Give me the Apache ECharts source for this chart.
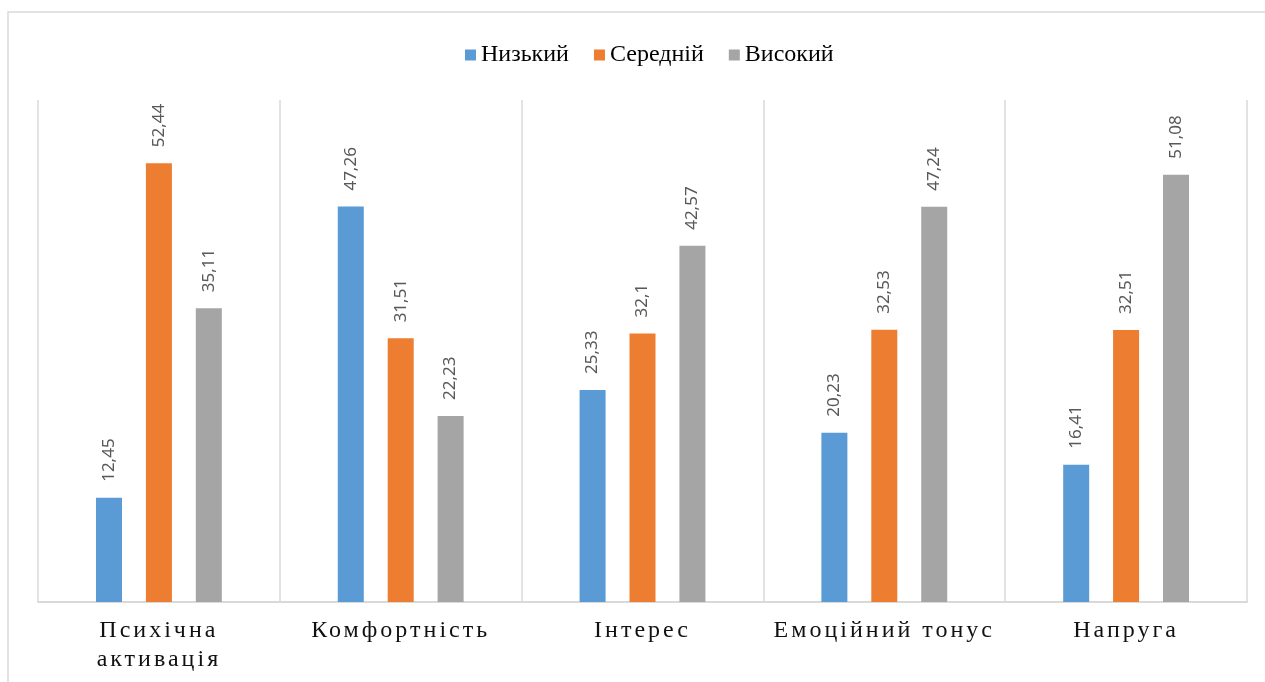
<!DOCTYPE html>
<html>
<head>
<meta charset="utf-8">
<script src="https://cdn.jsdelivr.net/npm/echarts@6/dist/echarts.min.js"></script>
<style>
html, body { margin:0; padding:0; background:#fff; }
#chart { width:1265px; height:682px; }
</style>
</head>
<body>
<div id="chart"></div>
<script>
const categories = ['Психічна\nактивація', 'Комфортність', 'Інтерес', 'Емоційний тонус', 'Напруга'];
const seriesNames = ['Низький', 'Середній', 'Високий'];
const lowValues = [12.45, 47.26, 25.33, 20.23, 16.41];
const midValues = [52.44, 31.51, 32.1, 32.53, 32.51];
const highValues = [35.11, 22.23, 42.57, 47.24, 51.08];
const colors = ['#5B9BD5', '#ED7D31', '#A5A5A5'];

// letter-spaced category labels (the reference uses tracked text on the axis)
(function () {
  const proto = CanvasRenderingContext2D.prototype;
  const origFill = proto.fillText;
  proto.fillText = function (t, x, y, m) {
    if ('letterSpacing' in this) {
      this.letterSpacing = /px\s+"?Liberation Serif/.test(this.font) ? '3px' : '0px';
    }
    return m === undefined ? origFill.call(this, t, x, y) : origFill.call(this, t, x, y, m);
  };
})();

const chart = echarts.init(document.getElementById('chart'), null, { renderer: 'canvas' });

function mkSeries(name, data, color) {
  return {
    name: name,
    type: 'bar',
    data: data,
    barWidth: 26,
    barGap: '92%',
    itemStyle: { color: color },
    label: {
      show: true,
      position: 'top',
      rotate: 90,
      align: 'left',
      verticalAlign: 'middle',
      distance: 16,
      color: '#595959',
      fontFamily: 'Noto Sans',
      fontSize: 17,
      formatter: p => String(p.value).replace('.', ',')
    }
  };
}

chart.setOption({
  animation: false,
  backgroundColor: '#fff',
  graphic: [{
    type: 'rect',
    shape: { x: 8, y: 12, width: 1300, height: 720 },
    style: { fill: 'none', stroke: '#d9d9d9', lineWidth: 1.5 },
    silent: true
  }],
  legend: {
    top: 38,
    left: 460,
    icon: 'rect',
    itemWidth: 11,
    itemHeight: 11,
    itemGap: 25,
    textStyle: { fontFamily: '"Times New Roman", "Liberation Serif", serif', fontSize: 24, color: '#000' },
    data: seriesNames
  },
  grid: { left: 38, right: 18, top: 100, bottom: 80, containLabel: false },
  xAxis: {
    type: 'category',
    data: categories,
    axisLine: { show: true, lineStyle: { color: '#d9d9d9', width: 2 } },
    axisTick: { show: false },
    splitLine: { show: true, lineStyle: { color: '#d9d9d9', width: 1.5 } },
    axisLabel: {
      margin: 14,
      fontFamily: 'Liberation Serif',
      fontSize: 24,
      lineHeight: 29,
      color: '#111'
    }
  },
  yAxis: {
    type: 'value',
    min: 0,
    max: 60,
    show: false,
    splitLine: { show: false }
  },
  series: [
    mkSeries(seriesNames[0], lowValues, colors[0]),
    mkSeries(seriesNames[1], midValues, colors[1]),
    mkSeries(seriesNames[2], highValues, colors[2])
  ]
});
</script>
</body>
</html>
